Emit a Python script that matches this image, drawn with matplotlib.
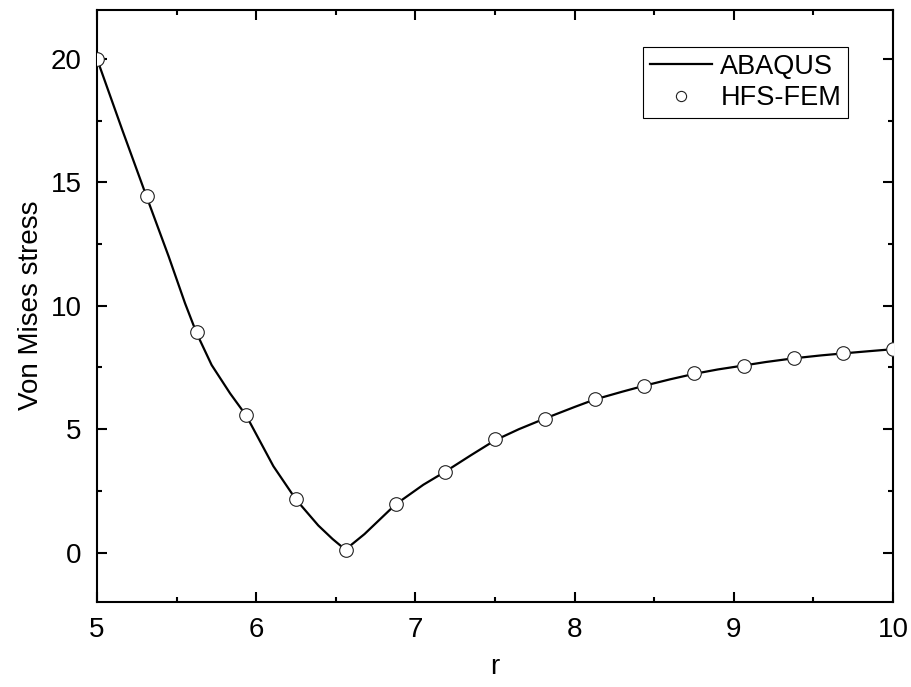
import matplotlib
matplotlib.use("Agg")
import matplotlib.pyplot as plt
from matplotlib.ticker import MultipleLocator

plt.rcParams["font.family"] = ["Liberation Sans", "DejaVu Sans"]

# ABAQUS reference solution (continuous curve)
abaqus_r = [5.0, 5.16, 5.3125, 5.45, 5.553, 5.625, 5.72, 5.836, 5.9375, 6.108,
            6.25, 6.39, 6.48, 6.56, 6.68, 6.875, 7.05, 7.1875, 7.35, 7.5,
            7.65, 7.8125, 8.0, 8.125, 8.3, 8.4375, 8.6, 8.75, 8.9, 9.0625,
            9.2, 9.375, 9.55, 9.6875, 9.85, 10.0]
abaqus_s = [20.0, 17.1, 14.4, 12.0, 10.1, 8.9, 7.6, 6.45, 5.55, 3.5,
            2.15, 1.1, 0.55, 0.12, 0.75, 1.95, 2.75, 3.28, 3.95, 4.55,
            5.0, 5.43, 5.9, 6.2, 6.52, 6.76, 7.02, 7.24, 7.42, 7.58,
            7.72, 7.87, 7.99, 8.07, 8.16, 8.24]

# HFS-FEM results
hfs_r = [5.0, 5.3125, 5.625, 5.9375, 6.25, 6.5625, 6.875, 7.1875, 7.5,
         7.8125, 8.125, 8.4375, 8.75, 9.0625, 9.375, 9.6875, 10.0]
hfs_s = [20.0, 14.44, 8.92, 5.57, 2.16, 0.11, 1.97, 3.28, 4.59,
         5.41, 6.22, 6.74, 7.26, 7.57, 7.88, 8.07, 8.24]

fig = plt.figure(figsize=(9.11, 6.87), dpi=100)
ax = fig.add_axes([97 / 911, 1 - 602 / 687, 796 / 911, 592.5 / 687])

ax.plot(abaqus_r, abaqus_s, color="black", lw=1.6, label="ABAQUS", zorder=2)
ax.plot(hfs_r, hfs_s, ls="none", marker="o", ms=9.8, mfc="white",
        mec="#222222", mew=0.8, label="HFS-FEM", zorder=3)

ax.set_xlim(5, 10)
ax.set_ylim(-2, 22)
ax.xaxis.set_major_locator(MultipleLocator(1))
ax.xaxis.set_minor_locator(MultipleLocator(0.5))
ax.yaxis.set_major_locator(MultipleLocator(5))
ax.yaxis.set_minor_locator(MultipleLocator(2.5))

ax.tick_params(which="both", direction="in", top=True, right=True,
               width=1.5, labelsize=20, pad=11)
ax.tick_params(which="major", length=7)
ax.tick_params(which="minor", length=3.5)
for sp in ax.spines.values():
    sp.set_linewidth(1.5)

ax.set_xlabel("r", fontsize=20, labelpad=8)
ax.set_ylabel("Von Mises stress", fontsize=20, labelpad=5)

leg = ax.legend(loc="upper right", bbox_to_anchor=(0.9435, 0.9367),
                borderaxespad=0, fontsize=19.5, fancybox=False,
                edgecolor="black", framealpha=1, markerscale=0.75,
                handlelength=2.3, handletextpad=0.3, borderpad=0.25,
                labelspacing=0.2)
leg.get_frame().set_linewidth(0.8)

fig.savefig("out.png", dpi=100)
